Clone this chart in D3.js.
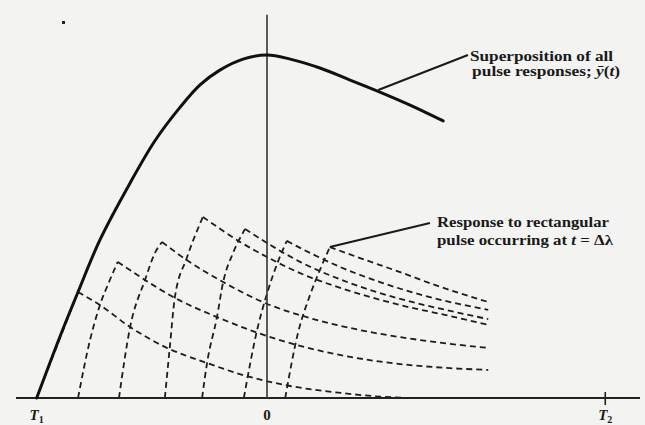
<!DOCTYPE html>
<html>
<head>
<meta charset="utf-8">
<script src="https://cdn.jsdelivr.net/npm/d3@7"></script>
<style>
  body { margin: 0; background: #f3f3f1; }
  svg { display: block; }
  text { font-family: "Liberation Serif", "DejaVu Serif", serif; fill: #1a1a1a; }
</style>
</head>
<body>
<svg width="645" height="425"></svg>
<script>
/////////////////////////
// Data (t in units of delta-lambda, v in % of the peak)
/////////////////////////

// superposition of all pulse responses
var mainCurve = [[-5.57,0],[-5.01,17.8],[-4.57,30.9],[-4.04,46.1],[-3.31,62.7],[-2.71,75.0],
  [-2.10,84.8],[-1.62,91.3],[-1.14,95.6],[-0.58,98.8],[0,100],[0.56,98.8],[1.28,96.2],
  [2.01,92.7],[2.73,89.2],[3.46,85.4],[4.26,80.8]];

// the seven rectangular pulse responses (rise, peak, decay)
var response1 = [[-5.57,0],[-5.07,15.5],[-4.57,30.9],[-4.04,27.1],[-3.31,20.7],[-2.47,14.9],
  [-1.45,10.2],[-0.58,6.7],[0.56,3.5],[1.77,1.5],[2.73,0.4],[3.46,0]];
var response2 = [[-4.57,0],[-4.28,16.9],[-4.04,27.1],[-3.80,34.4],[-3.61,39.7],[-2.95,34.4],
  [-2.23,29.2],[-1.21,23.6],[-0.41,19.8],[0.80,15.2],[2.01,12.0],[3.22,9.9],[4.43,8.7],[5.35,8.2]];
var response3 = [[-3.58,0],[-3.31,20.7],[-2.95,34.4],[-2.71,42.3],[-2.54,45.5],[-1.94,40.2],
  [-1.06,33.8],[-0.05,27.7],[1.04,23.3],[2.25,19.8],[3.70,16.9],[5.35,14.6]];
var response4 = [[-2.47,0],[-2.35,14.9],[-2.23,29.2],[-1.94,40.8],[-1.55,52.8],[-0.65,45.5],
  [0,41.1],[0.80,36.4],[2.01,31.2],[3.22,27.1],[4.43,23.9],[5.35,21.3]];
var response5 = [[-1.57,0],[-1.45,10.2],[-1.21,23.6],[-1.06,33.8],[-0.82,42.3],[-0.53,49.3],
  [0,45.2],[0.80,39.7],[2.01,33.5],[3.22,28.9],[4.43,25.4],[5.35,23.0]];
var response6 = [[-0.56,0],[-0.24,19.8],[0.02,31.2],[0.27,39.9],[0.48,45.8],[1.04,42.3],
  [1.77,38.2],[2.73,33.8],[3.94,29.4],[5.35,25.7]];
var response7 = [[0.44,0],[0.75,19.0],[1.04,30.0],[1.31,38.2],[1.52,44.0],[2.25,40.8],
  [3.22,36.7],[4.19,32.4],[5.35,28.0]];

var tickValues = [-5.57, 0, 8.18];
var tickLabels = ["T1", "0", "T2"];

var superLabel = ["Superposition of all", "pulse responses; "];
var pulseLabel = ["Response to rectangular", "pulse occurring at "];

/////////////////////////
// Scales
/////////////////////////

var svg = d3.select("svg");

var x = d3.scaleLinear().domain([-6.07, 9.02]).range([16, 640]);
var y = d3.scaleLinear().domain([0, 100]).range([398, 55]);

var line = d3.line()
    .x(function(d) { return x(d[0]); })
    .y(function(d) { return y(d[1]); })
    .curve(d3.curveMonotoneX);

var smooth = d3.line()
    .x(function(d) { return x(d[0]); })
    .y(function(d) { return y(d[1]); })
    .curve(d3.curveCatmullRom.alpha(0.5));

// split a response at its peak so the corner stays sharp
function splitAtPeak(pts) {
    var i = d3.maxIndex(pts, function(d) { return d[1]; });
    return [pts.slice(0, i + 1), pts.slice(i)];
}

/////////////////////////
// Dashed pulse responses
/////////////////////////

var responses = [response1, response2, response3, response4, response5, response6, response7];

var dashed = svg.append("g").attr("id", "responses");

responses.forEach(function(r) {
    splitAtPeak(r).forEach(function(part) {
	dashed.append("path")
	    .attr("d", line(part))
	    .attr("fill", "none")
	    .attr("stroke", "#1d1d1d")
	    .attr("stroke-width", 1.8)
	    .attr("stroke-dasharray", "6,4");
    });
});

/////////////////////////
// Axes
/////////////////////////

var axisG = svg.append("g")
    .attr("transform", "translate(0," + y(0) + ")")
    .call(d3.axisBottom(x).tickValues([tickValues[2]]).tickSize(0).tickFormat(""));

axisG.select(".domain").remove();

axisG.append("line")
    .attr("x1", x.range()[0]).attr("x2", x.range()[1])
    .attr("stroke", "#222").attr("stroke-width", 2);

// little tick at T2
axisG.append("line")
    .attr("x1", x(tickValues[2])).attr("x2", x(tickValues[2]))
    .attr("y1", -6).attr("y2", 7)
    .attr("stroke", "#222").attr("stroke-width", 1.6);

// vertical axis at t = 0
svg.append("line")
    .attr("x1", x(0)).attr("x2", x(0))
    .attr("y1", y(0)).attr("y2", y(111.7))
    .attr("stroke", "#333").attr("stroke-width", 1.6);

var labels = svg.append("g").attr("id", "ticklabels");

tickLabels.forEach(function(lab, i) {
    var t = labels.append("text")
	.attr("x", x(tickValues[i]))
	.attr("y", 420)
	.attr("text-anchor", "middle")
	.attr("font-size", 15)
	.attr("font-weight", "bold");
    if (lab === "0") {
	t.text("0");
    } else {
	t.append("tspan").attr("font-style", "italic").text("T");
	t.append("tspan").attr("font-size", 10).attr("dy", 3).text(lab.slice(1));
    }
});

/////////////////////////
// Superposition curve
/////////////////////////

svg.append("path")
    .attr("d", smooth(mainCurve))
    .attr("fill", "none")
    .attr("stroke", "#111")
    .attr("stroke-width", 3)
    .attr("stroke-linecap", "round");

/////////////////////////
// Annotations
/////////////////////////

function leader(a, b) {
    svg.append("line")
	.attr("x1", x(a[0])).attr("y1", y(a[1]))
	.attr("x2", x(b[0])).attr("y2", y(b[1]))
	.attr("stroke", "#1a1a1a").attr("stroke-width", 2);
}

leader([2.69, 89.8], [4.86, 100]);
leader([1.52, 44.0], [3.94, 51.0]);

function label(t, v, len) {
    return svg.append("text").attr("x", x(t)).attr("y", y(v))
	.attr("font-size", 14.5).attr("font-weight", "bold")
	.attr("textLength", len).attr("lengthAdjust", "spacingAndGlyphs");
}

label(4.91, 98.3, 143).text(superLabel[0]);
var s2 = label(4.96, 93.9, 148).text(superLabel[1]);
s2.append("tspan").attr("font-style", "italic").text("ȳ");
s2.append("tspan").text("(");
s2.append("tspan").attr("font-style", "italic").text("t");
s2.append("tspan").text(")");

label(4.11, 49.9, 172).text(pulseLabel[0]);
var p2 = label(4.11, 44.6, 176).text(pulseLabel[1]);
p2.append("tspan").attr("font-style", "italic").text("t");
p2.append("tspan").text(" = Δλ");

// stray speck on the scan
svg.append("rect").attr("x", 62).attr("y", 21).attr("width", 3).attr("height", 3).attr("fill", "#222");
</script>
</body>
</html>
